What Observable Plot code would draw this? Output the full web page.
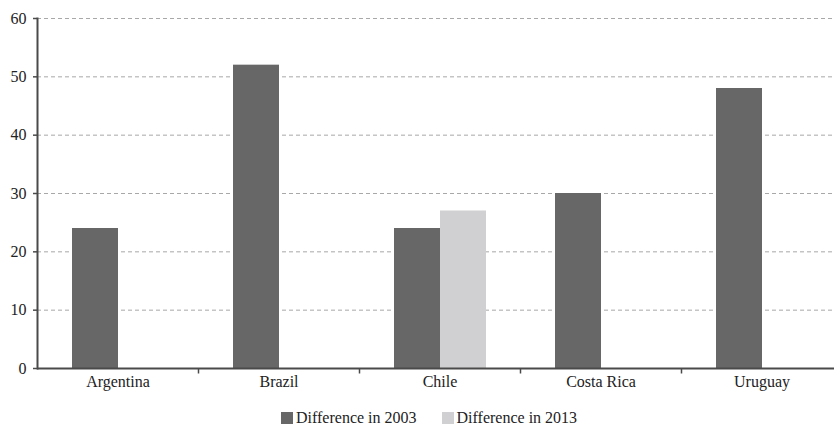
<!DOCTYPE html>
<html><head><meta charset="utf-8">
<script src="https://cdn.jsdelivr.net/npm/d3@7"></script>
<script src="https://cdn.jsdelivr.net/npm/@observablehq/plot@0.6"></script>
<style>
html,body{margin:0;padding:0;background:#fff;overflow:hidden;width:834px;height:425px}
#chart{position:absolute;left:0;top:0;width:843px}
#chart svg{max-width:none !important;width:843px;height:400px}
#legend{position:absolute;left:281px;top:409px;display:flex;align-items:center;font-family:"Liberation Serif","Times New Roman",serif;font-size:16px;line-height:18px;color:#222}
#legend .item{display:flex;align-items:center;margin-right:25px}
#legend .sw{width:12px;height:12px;margin-right:3px}
</style></head><body><div id="chart"></div><div id="legend"></div>
<script>
const countries = ["Argentina","Brazil","Chile","Costa Rica","Uruguay"];
const series = ["Difference in 2003","Difference in 2013"];
const diff2003 = [24,52,24,30,48];
const diff2013 = [null,null,27,null,null];
const yTicks = [0,10,20,30,40,50,60];
const colors = ["#676767","#d0d0d2"];

const data = countries.flatMap((c,i)=>[
  {country:c, series:series[0], value:diff2003[i]},
  {country:c, series:series[1], value:diff2013[i]}
]).filter(d=>d.value!=null);

const tickSymbol = {draw(ctx){ctx.moveTo(0,0);ctx.lineTo(0,5);}};

const chart = Plot.plot({
  width: 843, height: 400,
  marginLeft: 36, marginRight: 0, marginTop: 18, marginBottom: 32,
  style: {fontFamily: "\"Liberation Serif\", \"Times New Roman\", serif", fontSize: "16px", color: "#222", background: "#fff", maxWidth: "none"},
  fx: {domain: countries, padding: 0, label: null, axis: null},
  x: {domain: series, paddingInner: 0, paddingOuter: 0.75, axis: null},
  y: {domain: [0,60], label: null, axis: null},
  color: {domain: series, range: colors},
  marks: [
    Plot.gridY(yTicks.filter(d=>d>0), {stroke:"#a8a8a8", strokeOpacity:1, strokeDasharray:"4,3"}),
    Plot.barY(data, {fx:"country", x:"series", y:"value", fill:"series"}),
    Plot.ruleY([0], {stroke:"#4a4a4a", strokeWidth:2}),
    Plot.axisY(yTicks, {tickSize:4, tickPadding:7, stroke:"#4a4a4a", strokeWidth:1.5, label:null, fill:"#222", fontSize:16}),
    Plot.axisFx({anchor:"bottom", tickSize:0, tickPadding:7, label:null, fill:"#222", fontSize:16}),
    Plot.frame({anchor:"left", facetAnchor:"left", stroke:"#4a4a4a", strokeWidth:2}),
    Plot.dot(countries.slice(1), {fx:d=>d, frameAnchor:"bottom-left", symbol:tickSymbol, stroke:"#4a4a4a", strokeWidth:1.5, fill:"none"})
  ]
});
document.getElementById("chart").appendChild(chart);

const legend = document.getElementById("legend");
series.forEach((s,i)=>{
  const it = document.createElement("div"); it.className="item";
  const sw = document.createElement("span"); sw.className="sw"; sw.style.background=colors[i];
  const tx = document.createElement("span"); tx.textContent=s;
  it.appendChild(sw); it.appendChild(tx); legend.appendChild(it);
});
</script></body></html>
